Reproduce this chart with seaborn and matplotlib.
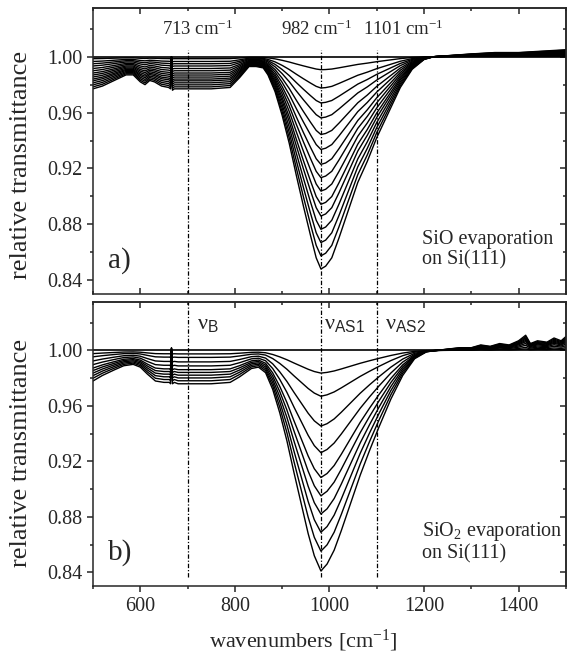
import numpy as np
import pandas as pd
import matplotlib
matplotlib.use("Agg")
import matplotlib.pyplot as plt
import seaborn as sns
from matplotlib.ticker import MultipleLocator

# Deepest spectrum of each panel (wavenumber, transmittance)
wn_a = [500, 520, 545, 570, 585, 600, 610, 620, 630, 645, 660, 664, 666, 668, 672,
        700, 750, 790, 810, 830, 845, 860, 870, 885, 900, 915, 930, 945, 960, 972,
        982, 992, 1005, 1020, 1040, 1060, 1080, 1100, 1125, 1150, 1175, 1200, 1220,
        1260, 1300, 1350, 1400, 1450, 1500]
deep_a = [0.977, 0.979, 0.983, 0.987, 0.987, 0.982, 0.980, 0.983, 0.982, 0.979, 0.978, 0.977, 0.9995, 0.976, 0.977,
          0.977, 0.977, 0.978, 0.985, 0.993, 0.993, 0.992, 0.987, 0.975, 0.958, 0.938, 0.915, 0.893, 0.872, 0.856,
          0.848, 0.850, 0.856, 0.870, 0.890, 0.910, 0.925, 0.942, 0.960, 0.978, 0.991, 0.998, 1.000,
          1.001, 1.002, 1.003, 1.003, 1.004, 1.005]

wn_b = [500, 520, 545, 565, 585, 600, 615, 632, 650, 662, 664, 666, 668, 672,
        680, 700, 750, 790, 810, 835, 850, 865, 880, 895, 910, 925, 940, 955, 968,
        982, 995, 1010, 1025, 1045, 1065, 1085, 1105, 1130, 1155, 1180, 1205, 1225,
        1250, 1275, 1300, 1320, 1340, 1360, 1380, 1400, 1415, 1425, 1440, 1460, 1475, 1490, 1500]
deep_b = [0.978, 0.982, 0.986, 0.989, 0.990, 0.988, 0.983, 0.978, 0.977, 0.977, 0.976, 1.002, 0.976, 0.977,
          0.976, 0.976, 0.976, 0.977, 0.981, 0.987, 0.988, 0.984, 0.972, 0.955, 0.935, 0.912, 0.890, 0.868, 0.852,
          0.841, 0.846, 0.856, 0.870, 0.890, 0.910, 0.928, 0.945, 0.965, 0.982, 0.994, 0.999, 1.000,
          1.001, 1.002, 1.002, 1.004, 1.003, 1.005, 1.004, 1.007, 1.011, 1.005, 1.007, 1.006, 1.009, 1.007, 1.010]

# minimum transmittance at 982 cm-1 of every spectrum
minima_a = [0.9907, 0.9776, 0.9669, 0.9562, 0.9443, 0.9336, 0.9229, 0.9134,
            0.9038, 0.8943, 0.8859, 0.8764, 0.8669, 0.8574, 0.848]
minima_b = [0.9837, 0.967, 0.9455, 0.9263, 0.9084, 0.8952, 0.8821, 0.8689, 0.8553, 0.841]

band_pos = [700, 982, 1100]
band_cm = ["713 cm$^{-1}$", "982 cm$^{-1}$", "1101 cm$^{-1}$"]
band_nu = [r"ν$_{\mathsf{B}}$", r"ν$_{\mathsf{AS1}}$", r"ν$_{\mathsf{AS2}}$"]

DASHDOT = (0, (3.5, 1.5, 1, 1.5))


def spectra_frame(wn, deep, minima):
    rows = []
    wn = np.array(wn)
    drop = 1.0 - np.array(deep)
    for i, m in enumerate(minima):
        scale = (1.0 - m) / (1.0 - min(minima))
        rows.append(pd.DataFrame({"wn": wn, "T": 1.0 - drop * scale, "curve": i}))
    return pd.concat(rows, ignore_index=True)


def set_ticks(axis, major, minor, direction, labels=True, size=14.5):
    axis.set_major_locator(MultipleLocator(major))
    axis.set_minor_locator(MultipleLocator(minor))
    axis.set_tick_params(which="both", direction=direction, width=1.1, labelsize=size)
    axis.set_tick_params(which="major", length=4)
    axis.set_tick_params(which="minor", length=2.5)
    if not labels:
        axis.set_tick_params(which="both", label1On=False, label2On=False)


sns.set_style("ticks")
plt.rcParams["font.family"] = ["Liberation Serif", "DejaVu Serif"]
plt.rcParams["mathtext.fontset"] = "custom"
plt.rcParams["mathtext.rm"] = "Liberation Serif"
plt.rcParams["mathtext.it"] = "Liberation Serif:italic"
plt.rcParams["mathtext.sf"] = "Liberation Sans"
plt.rcParams["axes.linewidth"] = 1.1

fig = plt.figure(figsize=(5.67, 6.55), dpi=100)
ax_a = fig.add_axes([0.164, 0.551, 0.834, 0.437])
ax_b = fig.add_axes([0.164, 0.105, 0.834, 0.434])

panels = [
    (ax_a, spectra_frame(wn_a, deep_a, minima_a), "a)", "SiO evaporation\non Si(111)", 0.45),
    (ax_b, spectra_frame(wn_b, deep_b, minima_b), "b)", "SiO$_2$ evaporation\non Si(111)", 0.47),
]

for ax, df, tag, note, label_y in panels:
    sns.lineplot(data=df, x="wn", y="T", units="curve", estimator=None,
                 color="black", lw=1.0, ax=ax, legend=False)
    ax.axhline(1.0, color="black", lw=1.2)
    ax.set_xlim(500, 1500)
    ax.set_ylim(0.83, 1.035)
    set_ticks(ax.yaxis, 0.04, 0.02, "out")
    ax.yaxis.set_major_formatter(matplotlib.ticker.FormatStrFormatter("%.2f"))
    ax.set_ylabel("relative transmittance", fontsize=19)
    ax.yaxis.set_label_coords(-0.128, label_y)
    # top / right axes with inward ticks
    top = ax.secondary_xaxis("top")
    right = ax.secondary_yaxis("right")
    set_ticks(top.xaxis, 200, 100, "in", labels=False)
    set_ticks(right.yaxis, 0.04, 0.02, "in", labels=False)
    ax.text(532, 0.854, tag, fontsize=21, va="center", ha="left")
    ax.text(1195, 0.862, note, fontsize=14.5, va="center", ha="left", linespacing=1.1)

# panel a: band positions
ax_a.vlines(band_pos, 0.83, 1.005, colors="black", linestyles=[DASHDOT], lw=0.9)
for x, s in zip([721, 973, 1157], band_cm):
    ax_a.text(x, 1.0195, s, fontsize=13.5, ha="center", va="center")
set_ticks(ax_a.xaxis, 200, 100, "in", labels=False)
ax_a.set_xlabel("")

# panel b: band assignments
ax_b.vlines(band_pos, 0.8365, 1.035, colors="black", linestyles=[DASHDOT], lw=0.9)
for x, s in zip([720, 988, 1118], band_nu):
    ax_b.text(x, 1.019, s, fontsize=16, ha="left", va="center")
set_ticks(ax_b.xaxis, 200, 100, "out")
ax_b.set_xlabel("wavenumbers [cm$^{-1}$]", fontsize=16)
ax_b.xaxis.set_label_coords(0.445, -0.145)

fig.savefig("out.png", dpi=100)
